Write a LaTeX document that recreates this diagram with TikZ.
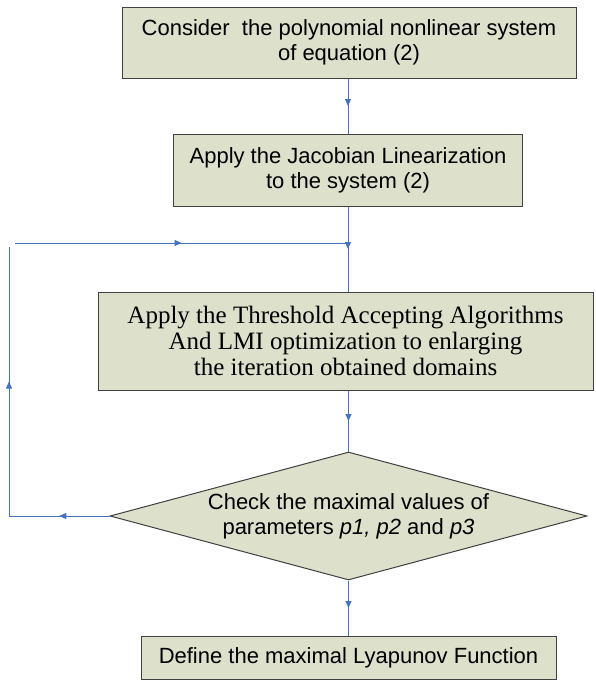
\documentclass[tikz,border=0pt]{standalone}
\usepackage{fontspec}
\setmainfont{Liberation Serif}
\setsansfont{Liberation Sans}
\usetikzlibrary{shapes.geometric,decorations.markings,arrows.meta}
\definecolor{boxfill}{HTML}{DDE0CB}
\definecolor{flowblue}{HTML}{4472C4}

\begin{document}
\begin{tikzpicture}[x=1pt,y=-1pt,
    box/.style={draw=black!75,line width=1pt,fill=boxfill,rectangle,align=center,inner sep=0pt,
      font=\sffamily\fontsize{22}{25}\selectfont},
    decision/.style={box,diamond,shape aspect=3.73},
    flow/.style={draw=flowblue,color=flowblue,line width=.9pt,postaction={decorate},
      decoration={markings,mark=at position .5 with {\arrow{Triangle[length=7pt,width=6pt]}}}}]
  \useasboundingbox (0,0) rectangle (595,680);
  \node [box,minimum width=454pt,minimum height=71pt] (cons) at (349,42.5)
    {Consider\ \ the polynomial nonlinear system\\of equation (2)};
  \node [box,minimum width=349pt,minimum height=72pt] (jac) at (348,170)
    {Apply the Jacobian Linearization\\to the system\ (2)};
  \node [box,minimum width=495pt,minimum height=98pt,font=\rmfamily\fontsize{25}{26}\selectfont] (ta) at (345.5,341)
    {Apply the Threshold Accepting Algorithms\\And LMI optimization to enlarging\\the iteration obtained domains};
  \node [decision,minimum width=477pt,minimum height=128pt] (chk) at (348.5,516)
    {Check the maximal values of\\parameters \textit{p1,} \textit{p2} and \textit{p3}};
  \node [box,minimum width=415pt,minimum height=43pt] (lyap) at (348.5,657.5)
    {Define the maximal Lyapunov Function};
  \coordinate (fbl) at (9,516);
  \coordinate (fbt) at (9,247);
  \coordinate (fbs) at (15,243);
  \coordinate (join) at (348,243);
  \draw [flow] (cons.south -| jac.north) -- (jac.north);
  \draw [flow] (jac.south) -- (jac.south |- ta.north);
  \draw [flow] (ta.south -| chk.north) -- (chk.north);
  \draw [flow] (chk.south) -- (lyap.north);
  \draw [flow] (chk.west) -- (fbl);
  \draw [flow] (fbl) -- (fbt);
  \draw [flow] (fbs) -- (join);
\end{tikzpicture}
\end{document}
